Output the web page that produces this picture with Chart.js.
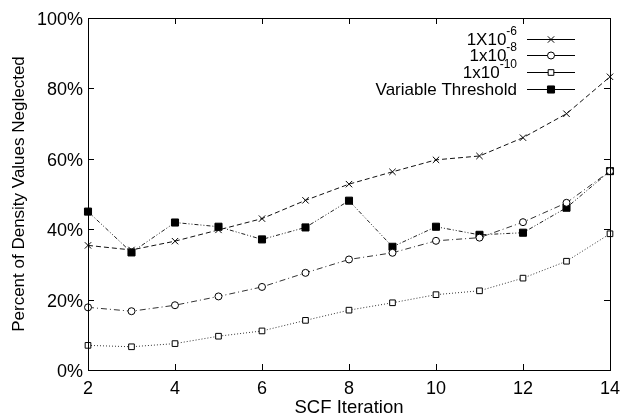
<!DOCTYPE html>
<html>
<head>
<meta charset="utf-8">
<script src="https://cdn.jsdelivr.net/npm/chart.js@4.4.0/dist/chart.umd.min.js"></script>
<style>
  html, body { margin: 0; padding: 0; background: #fff; }
  #wrap { width: 628px; height: 416px; }
</style>
</head>
<body>
<div id="wrap"><canvas id="chart"></canvas></div>
<script>
const iterations = [2, 3, 4, 5, 6, 7, 8, 9, 10, 11, 12, 13, 14];
const thresh1e6 = [35.4, 34.1, 36.6, 39.8, 43.0, 48.2, 52.8, 56.3, 59.7, 60.8, 66.0, 72.8, 83.3];
const thresh1e8 = [17.8, 16.7, 18.4, 20.9, 23.6, 27.6, 31.4, 33.3, 36.7, 37.6, 42.0, 47.5, 56.5];
const thresh1e10 = [7.0, 6.6, 7.5, 9.6, 11.1, 14.1, 17.0, 19.1, 21.4, 22.5, 26.1, 30.9, 38.7];
const variableThresh = [45.0, 33.4, 41.9, 40.7, 37.1, 40.5, 48.1, 35.0, 40.7, 38.4, 39.0, 46.1, 56.5];
const legendBase = ['1X10', '1x10', '1x10', 'Variable Threshold'];
const legendExp = ['-6', '-8', '-10', ''];
const xTicks = [2, 4, 6, 8, 10, 12, 14];
const yTicks = [0, 20, 40, 60, 80, 100];

const FONT = 'Liberation Sans, Arial, Helvetica, sans-serif';

function pts(ys) {
  return iterations.map((x, i) => ({ x: x, y: ys[i] }));
}

// box round the plot with gnuplot-style ticks pointing inward
const framePlugin = {
  id: 'frame',
  afterDatasetsDraw(chart) {
    const { ctx, chartArea: a, scales } = chart;
    ctx.save();
    ctx.strokeStyle = '#000';
    ctx.lineWidth = 1;
    ctx.setLineDash([]);
    ctx.strokeRect(Math.round(a.left) + 0.5, Math.round(a.top) + 0.5,
      Math.round(a.right - a.left), Math.round(a.bottom - a.top));
    ctx.beginPath();
    xTicks.forEach(v => {
      const px = Math.round(scales.x.getPixelForValue(v)) + 0.5;
      ctx.moveTo(px, a.bottom); ctx.lineTo(px, a.bottom - 6);
      ctx.moveTo(px, a.top); ctx.lineTo(px, a.top + 6);
    });
    yTicks.forEach(v => {
      const py = Math.round(scales.y.getPixelForValue(v)) + 0.5;
      ctx.moveTo(a.left, py); ctx.lineTo(a.left + 6, py);
      ctx.moveTo(a.right, py); ctx.lineTo(a.right - 6, py);
    });
    ctx.stroke();
    ctx.restore();
  }
};

// legend: right aligned text with superscript, sample line + marker to the right
const legendPlugin = {
  id: 'sideLegend',
  afterDraw(chart) {
    const ctx = chart.ctx;
    const textRight = 517, lineL = 527, lineR = 575;
    const rowY = [39, 55, 72, 89];
    ctx.save();
    chart.data.datasets.forEach((ds, i) => {
      const y = rowY[i];
      ctx.fillStyle = '#000';
      ctx.textBaseline = 'middle';
      ctx.textAlign = 'right';
      let right = textRight;
      if (legendExp[i]) {
        ctx.font = '12px ' + FONT;
        ctx.fillText(legendExp[i], right, y - 7);
        right -= ctx.measureText(legendExp[i]).width;
      }
      ctx.font = '17px ' + FONT;
      ctx.fillText(legendBase[i], right, y + 1);
      ctx.strokeStyle = '#000';
      ctx.lineWidth = 1;
      ctx.setLineDash([]);
      ctx.beginPath();
      ctx.moveTo(lineL, y + 0.5);
      ctx.lineTo(lineR, y + 0.5);
      ctx.stroke();
      ctx.fillStyle = ds.pointBackgroundColor;
      ctx.strokeStyle = ds.pointBorderColor;
      Chart.helpers.drawPoint(ctx, {
        pointStyle: ds.pointStyle, radius: ds.pointRadius, rotation: 0, borderWidth: 1
      }, (lineL + lineR) / 2, y + 0.5);
    });
    ctx.restore();
  }
};

const ctx = document.getElementById('chart').getContext('2d');
new Chart(ctx, {
  type: 'line',
  data: {
    datasets: [
      {
        label: '1X10-6', data: pts(thresh1e6),
        borderColor: '#111', borderWidth: 1, borderDash: [5, 3],
        pointStyle: 'crossRot', pointRadius: 4.5,
        pointBorderColor: '#000', pointBackgroundColor: '#000', pointBorderWidth: 1
      },
      {
        label: '1x10-8', data: pts(thresh1e8),
        borderColor: '#333', borderWidth: 1, borderDash: [6, 3, 1, 3],
        pointStyle: 'circle', pointRadius: 3.5,
        pointBorderColor: '#000', pointBackgroundColor: '#fff', pointBorderWidth: 1
      },
      {
        label: '1x10-10', data: pts(thresh1e10),
        borderColor: '#333', borderWidth: 1, borderDash: [1, 2],
        pointStyle: 'rect', pointRadius: 4,
        pointBorderColor: '#000', pointBackgroundColor: '#fff', pointBorderWidth: 1
      },
      {
        label: 'Variable Threshold', data: pts(variableThresh),
        borderColor: '#222', borderWidth: 1, borderDash: [4, 2, 1, 2, 1, 2],
        pointStyle: 'rect', pointRadius: 5,
        pointBorderColor: '#000', pointBackgroundColor: '#000', pointBorderWidth: 1
      }
    ]
  },
  options: {
    responsive: true,
    maintainAspectRatio: false,
    animation: false,
    clip: false,
    layout: { padding: { top: 18, right: 14, left: 0, bottom: 0 } },
    plugins: {
      legend: { display: false },
      tooltip: { enabled: false }
    },
    scales: {
      x: {
        type: 'linear', min: 2, max: 14,
        afterFit(scale) { scale.height = 46; },
        grid: { display: false, drawTicks: false },
        border: { display: false },
        ticks: {
          stepSize: 2, padding: 8, color: '#000',
          font: { family: FONT, size: 18 }
        },
        title: {
          display: true, text: 'SCF Iteration', color: '#000',
          font: { family: FONT, size: 18.5, lineHeight: 0.9 }, padding: { top: 0, bottom: 0 }
        }
      },
      y: {
        type: 'linear', min: 0, max: 100,
        afterFit(scale) { scale.width = 88; },
        grid: { display: false, drawTicks: false },
        border: { display: false },
        ticks: {
          stepSize: 20, padding: 5, labelOffset: 2, color: '#000',
          font: { family: FONT, size: 18 },
          callback: v => v + '%'
        },
        title: {
          display: true, text: 'Percent of Density Values Neglected', color: '#000',
          font: { family: FONT, size: 17 }, padding: { top: 9, bottom: 0 }
        }
      }
    }
  },
  plugins: [framePlugin, legendPlugin]
});
</script>
</body>
</html>
